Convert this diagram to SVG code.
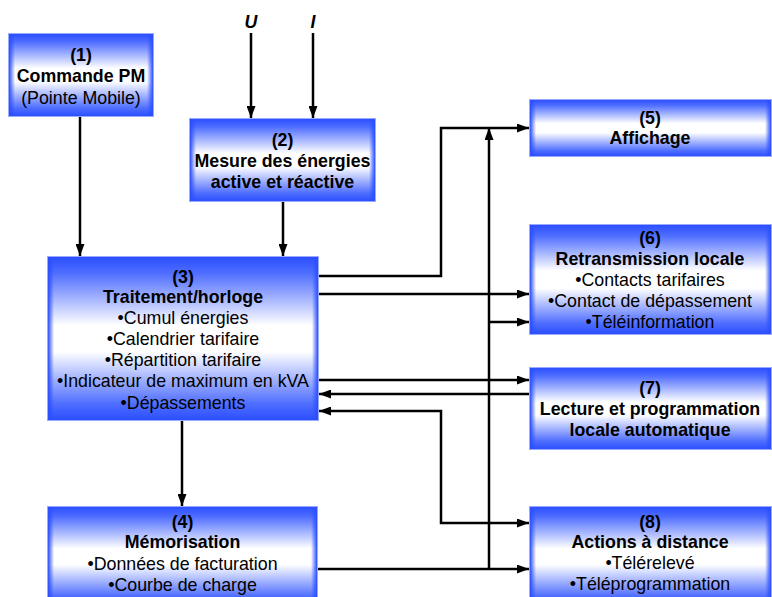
<svg xmlns="http://www.w3.org/2000/svg" width="772" height="597" viewBox="0 0 772 597">
<defs>
<linearGradient id="gv" x1="0" y1="0" x2="0" y2="1">
<stop offset="0" stop-color="#2a4eff"/>
<stop offset="0.1" stop-color="#4e6dff"/>
<stop offset="0.42" stop-color="#ffffff"/>
<stop offset="0.58" stop-color="#ffffff"/>
<stop offset="0.9" stop-color="#4e6dff"/>
<stop offset="1" stop-color="#2a4eff"/>
</linearGradient>
<linearGradient id="gl" x1="0" y1="0" x2="1" y2="0">
<stop offset="0" stop-color="#2a4eff" stop-opacity="1"/>
<stop offset="1" stop-color="#2a4eff" stop-opacity="0"/>
</linearGradient>
<linearGradient id="gr" x1="0" y1="0" x2="1" y2="0">
<stop offset="0" stop-color="#2a4eff" stop-opacity="0"/>
<stop offset="1" stop-color="#2a4eff" stop-opacity="1"/>
</linearGradient>
<marker id="ah" viewBox="0 0 12 9" refX="12" refY="4.5" markerWidth="12" markerHeight="9" markerUnits="userSpaceOnUse" orient="auto-start-reverse">
<path d="M0,0 L12,4.5 L0,9 z" fill="#000"/>
</marker>
</defs>
<style>
.box{fill:url(#gv);stroke:#9aabff;stroke-width:1}
.sl{fill:url(#gl)}
.sr{fill:url(#gr)}
text{font-family:"Liberation Sans",Arial,sans-serif;font-size:17.8px;fill:#000;text-anchor:middle}
.b{font-weight:bold}
.ui{font-weight:bold;font-style:italic}
.c{fill:none;stroke:#000;stroke-width:2.5}
.a{marker-end:url(#ah)}
.aa{marker-start:url(#ah);marker-end:url(#ah)}
</style>
<rect width="772" height="597" fill="#fff"/>

<g id="connectors">
<path class="c a" d="M80,117 V256"/>
<path class="c a" d="M251,33 V118"/>
<path class="c a" d="M313,33 V118"/>
<path class="c a" d="M283,202 V256"/>
<path class="c a" d="M182,421 V506"/>
<path class="c a" d="M319,276 H441 V128 H529"/>
<path class="c a" d="M319,294 H529"/>
<path class="c a" d="M489,569 V128"/>
<path class="c a" d="M489,322 H529"/>
<path class="c a" d="M319,380 H529"/>
<path class="c a" d="M529,394 H319"/>
<path class="c aa" d="M319,411 H441 V523 H529"/>
<path class="c a" d="M317,569 H529"/>
</g>

<g id="labels">
<text class="ui" x="251" y="28">U</text>
<text class="ui" x="313" y="28">I</text>
</g>

<g id="n1">
<rect class="box" x="8.5" y="33.5" width="145" height="83"/>
<rect class="sl" x="9" y="34" width="6" height="82"/>
<rect class="sr" x="147" y="34" width="6" height="82"/>
<text class="b" x="81" y="61">(1)</text>
<text class="b" x="81" y="82">Commande PM</text>
<text x="81" y="104">(Pointe Mobile)</text>
</g>

<g id="n2">
<rect class="box" x="189.5" y="118.5" width="186" height="83"/>
<rect class="sl" x="190" y="119" width="6" height="82"/>
<rect class="sr" x="369" y="119" width="6" height="82"/>
<text class="b" x="282.5" y="146">(2)</text>
<text class="b" x="282.5" y="167">Mesure des énergies</text>
<text class="b" x="282.5" y="188">active et réactive</text>
</g>

<g id="n3">
<rect class="box" x="47.5" y="256.5" width="271" height="164"/>
<rect class="sl" x="48" y="257" width="6" height="163"/>
<rect class="sr" x="312" y="257" width="6" height="163"/>
<text class="b" x="183" y="283">(3)</text>
<text class="b" x="183" y="303">Traitement/horloge</text>
<text x="183" y="324">•Cumul énergies</text>
<text x="183" y="345">•Calendrier tarifaire</text>
<text x="183" y="366">•Répartition tarifaire</text>
<text x="183" y="387">•Indicateur de maximum en kVA</text>
<text x="183" y="409">•Dépassements</text>
</g>

<g id="n4">
<rect class="box" x="47.5" y="506.5" width="270" height="100"/>
<rect class="sl" x="48" y="507" width="6" height="99"/>
<rect class="sr" x="311" y="507" width="6" height="99"/>
<text class="b" x="182.5" y="528">(4)</text>
<text class="b" x="182.5" y="548">Mémorisation</text>
<text x="182.5" y="570">•Données de facturation</text>
<text x="182.5" y="591">•Courbe de charge</text>
</g>

<g id="n5">
<rect class="box" x="529.5" y="99.5" width="242" height="57"/>
<rect class="sl" x="530" y="100" width="6" height="56"/>
<rect class="sr" x="765" y="100" width="6" height="56"/>
<text class="b" x="650" y="124">(5)</text>
<text class="b" x="650" y="144">Affichage</text>
</g>

<g id="n6">
<rect class="box" x="529.5" y="224.5" width="242" height="110"/>
<rect class="sl" x="530" y="225" width="6" height="109"/>
<rect class="sr" x="765" y="225" width="6" height="109"/>
<text class="b" x="650" y="244">(6)</text>
<text class="b" x="650" y="265">Retransmission locale</text>
<text x="650" y="286">•Contacts tarifaires</text>
<text x="650" y="307">•Contact de dépassement</text>
<text x="650" y="328">•Téléinformation</text>
</g>

<g id="n7">
<rect class="box" x="529.5" y="367.5" width="242" height="82"/>
<rect class="sl" x="530" y="368" width="6" height="81"/>
<rect class="sr" x="765" y="368" width="6" height="81"/>
<text class="b" x="650" y="394">(7)</text>
<text class="b" x="650" y="415">Lecture et programmation</text>
<text class="b" x="650" y="436">locale automatique</text>
</g>

<g id="n8">
<rect class="box" x="529.5" y="506.5" width="242" height="100"/>
<rect class="sl" x="530" y="507" width="6" height="99"/>
<rect class="sr" x="765" y="507" width="6" height="99"/>
<text class="b" x="650" y="528">(8)</text>
<text class="b" x="650" y="548">Actions à distance</text>
<text x="650" y="569">•Télérelevé</text>
<text x="650" y="590">•Téléprogrammation</text>
</g>
</svg>
